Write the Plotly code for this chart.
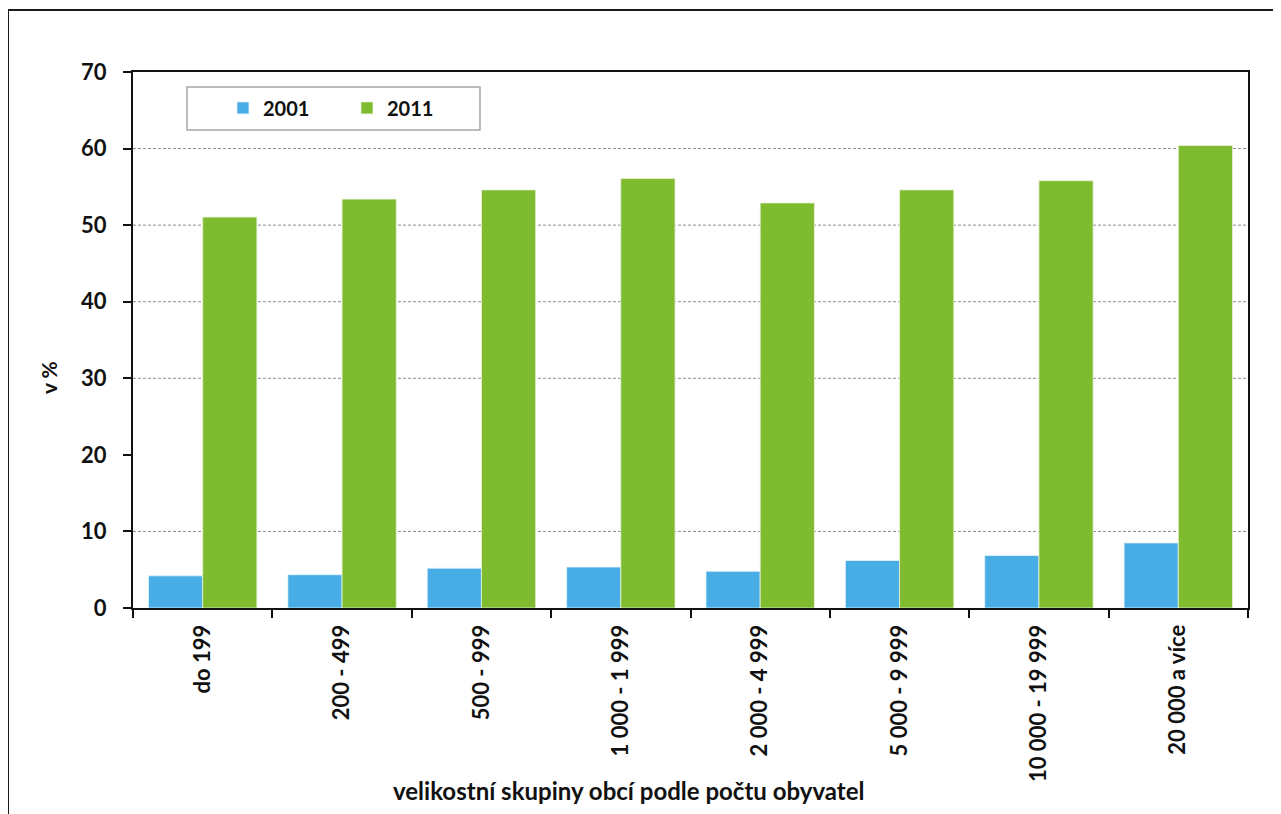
import plotly.graph_objects as go

categories = ["do 199", "200 - 499", "500 - 999", "1 000 - 1 999", "2 000 - 4 999",
              "5 000 - 9 999", "10 000 - 19 999", "20 000 a více"]
values_2001 = [4.2, 4.35, 5.2, 5.35, 4.8, 6.2, 6.85, 8.5]
values_2011 = [51.05, 53.4, 54.6, 56.1, 52.9, 54.6, 55.8, 60.4]
y_ticks = [0, 10, 20, 30, 40, 50, 60, 70]
grid_values = [10, 30, 40, 50, 60]
x_title = "velikostní skupiny obcí podle počtu obyvatel"
y_title = "v %"

BLUE = "#48ACE5"
GREEN = "#7EBB2E"
INK = "#111111"

fig = go.Figure()
fig.add_trace(go.Bar(x=categories, y=values_2001, name="2001",
                     marker=dict(color=BLUE, line=dict(color="#E6F4FB", width=0.8))))
fig.add_trace(go.Bar(x=categories, y=values_2011, name="2011",
                     marker=dict(color=GREEN, line=dict(color="#E8F3DA", width=0.8))))

shapes = []
for g in grid_values:
    shapes.append(dict(type="line", xref="paper", yref="y", x0=0, x1=1, y0=g, y1=g,
                       line=dict(color="#8C8C8C", width=1, dash="3px,2px"), layer="below"))
# legend box
shapes.append(dict(type="rect", xref="paper", yref="paper", x0=0.0484, x1=0.3112,
                   y0=0.8918, y1=0.972, line=dict(color="#A6A6A6", width=1.5),
                   fillcolor="rgba(0,0,0,0)", layer="above"))
# outer chart border
shapes.append(dict(type="rect", xref="paper", yref="paper", x0=-0.1121, x1=1.04,
                   y0=-0.40, y1=1.1157, line=dict(color="#1A1A1A", width=2),
                   fillcolor="rgba(0,0,0,0)", layer="above"))

fig.update_layout(
    width=1273, height=806,
    margin=dict(l=125, r=33, t=64, b=206),
    paper_bgcolor="white", plot_bgcolor="white",
    barmode="group", bargap=0.222, bargroupgap=0,
    font=dict(family="Lato", color=INK),
    shapes=shapes,
    showlegend=True,
    legend=dict(orientation="h", x=0.0807, y=0.933, xanchor="left", yanchor="middle",
                bgcolor="rgba(0,0,0,0)", borderwidth=0,
                font=dict(family="Lato", size=20, weight="bold", color=INK),
                entrywidth=79, entrywidthmode="pixels", itemwidth=30),
    annotations=[
        dict(text=x_title, xref="paper", yref="paper", x=0.4448, y=-0.3396,
             xanchor="center", yanchor="middle", showarrow=False,
             font=dict(family="Lato", size=24, weight="bold", color=INK)),
        dict(text=y_title, xref="paper", yref="paper", x=-0.0762, y=0.429,
             xanchor="center", yanchor="middle", showarrow=False, textangle=-90,
             font=dict(family="Lato", size=21, weight="bold", color=INK)),
    ],
    xaxis=dict(
        tickangle=-90, showgrid=False, showline=True, linecolor=INK, linewidth=2,
        mirror=True, ticks="outside", tickson="boundaries", ticklen=8, tickwidth=1.5,
        tickcolor=INK, tickfont=dict(family="Lato", size=22, weight="bold", color=INK),
        ticklabelstandoff=6,
    ),
    yaxis=dict(
        range=[0, 70], tickvals=y_ticks, showgrid=False, zeroline=False,
        showline=True, linecolor=INK, linewidth=2, mirror=True,
        ticks="outside", ticklen=8, tickwidth=1.5, tickcolor=INK,
        tickfont=dict(family="Lato", size=22, weight="bold", color=INK),
        ticklabelstandoff=12,
    ),
)

fig.write_html("out.html")
